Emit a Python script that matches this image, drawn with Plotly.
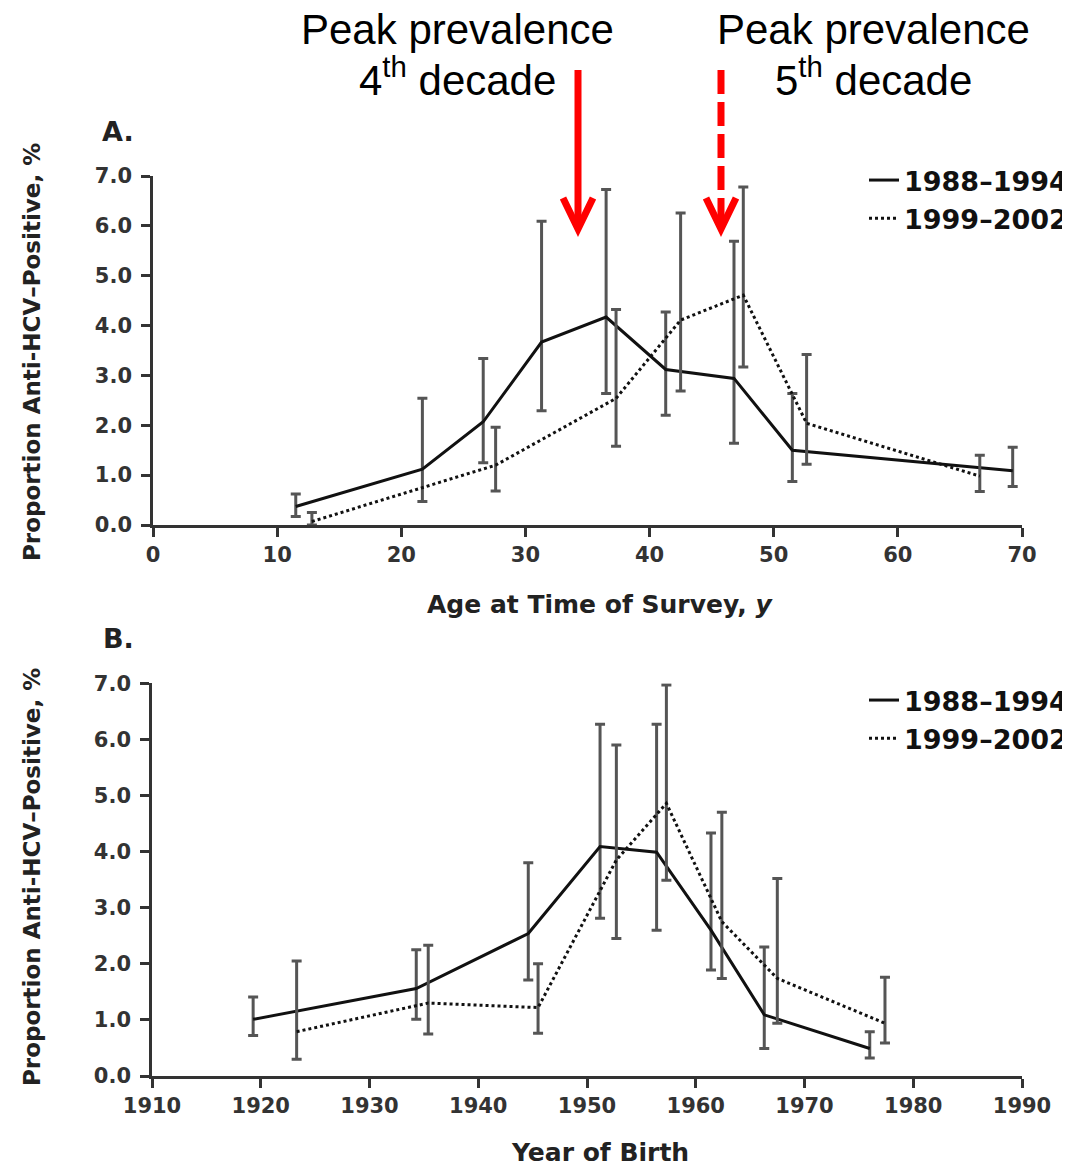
import plotly.graph_objects as go

# page is 1070x1166; the html body adds an 8px margin, so the figure is sized to fit
OFF = 8
W, H = 1070 - OFF, 1166 - OFF

# ---------------- Data ----------------
# Panel A: Age at time of survey
age_8894 = [11.5, 21.7, 26.6, 31.3, 36.5, 41.3, 46.8, 51.5, 69.25]
prev_8894_a = [0.37, 1.12, 2.07, 3.67, 4.17, 3.12, 2.94, 1.50, 1.09]
hi_8894_a = [0.62, 2.54, 3.34, 6.09, 6.73, 4.27, 5.69, 2.64, 1.56]
lo_8894_a = [0.17, 0.47, 1.25, 2.29, 2.64, 2.20, 1.64, 0.87, 0.77]

age_9902 = [12.8, 27.6, 37.3, 42.5, 47.55, 52.65, 66.6]
prev_9902_a = [0.07, 1.20, 2.54, 4.11, 4.61, 2.04, 0.98]
hi_9902_a = [0.25, 1.96, 4.32, 6.26, 6.78, 3.42, 1.40]
lo_9902_a = [0.00, 0.68, 1.58, 2.69, 3.17, 1.22, 0.67]

# Panel B: Year of birth
birth_8894 = [1919.3, 1934.3, 1944.6, 1951.2, 1956.4, 1961.4, 1966.3, 1976.0]
prev_8894_b = [1.01, 1.56, 2.54, 4.09, 3.99, 2.60, 1.09, 0.49]
hi_8894_b = [1.41, 2.25, 3.80, 6.27, 6.27, 4.33, 2.30, 0.79]
lo_8894_b = [0.72, 1.01, 1.71, 2.81, 2.60, 1.89, 0.49, 0.32]

birth_9902 = [1923.3, 1935.4, 1945.5, 1952.7, 1957.3, 1962.4, 1967.5, 1977.4]
prev_9902_b = [0.79, 1.30, 1.22, 3.85, 4.86, 2.75, 1.74, 0.94]
hi_9902_b = [2.05, 2.33, 2.00, 5.90, 6.97, 4.70, 3.52, 1.76]
lo_9902_b = [0.30, 0.75, 0.76, 2.45, 3.49, 1.74, 0.94, 0.59]

series_names = ["1988\u20131994", "1999\u20132002"]
age_ticks = [0, 10, 20, 30, 40, 50, 60, 70]
year_ticks = [1910, 1920, 1930, 1940, 1950, 1960, 1970, 1980, 1990]
prev_ticks = [0, 1, 2, 3, 4, 5, 6, 7]


def px(x):
    return (x - OFF) / W


def py(y):
    return 1 - (y - OFF) / H


fig = go.Figure()


def add_series(x, y, hi, lo, name, dash, xa, ya, legend):
    fig.add_trace(go.Scatter(
        x=x, y=y, mode="lines", name=name,
        line=dict(color="#111111", width=3, dash=dash),
        error_y=dict(type="data", symmetric=False,
                     array=[h - v for h, v in zip(hi, y)],
                     arrayminus=[v - l for v, l in zip(y, lo)],
                     color="#555555", thickness=3, width=5),
        xaxis=xa, yaxis=ya, legend=legend, showlegend=True))


add_series(age_8894, prev_8894_a, hi_8894_a, lo_8894_a, series_names[0], "solid", "x", "y", "legend")
add_series(age_9902, prev_9902_a, hi_9902_a, lo_9902_a, series_names[1], "3px,3px", "x", "y", "legend")
add_series(birth_8894, prev_8894_b, hi_8894_b, lo_8894_b, series_names[0], "solid", "x2", "y2", "legend2")
add_series(birth_9902, prev_9902_b, hi_9902_b, lo_9902_b, series_names[1], "3px,3px", "x2", "y2", "legend2")

tickfont = dict(family="DejaVu Sans", size=21, color="#333333", weight="bold")
axis_common = dict(showline=True, linecolor="#333333", linewidth=2.5,
                   ticks="outside", ticklen=9, tickwidth=2.5, tickcolor="#333333",
                   showgrid=False, zeroline=False, tickfont=tickfont, automargin=False)

legend_font = dict(family="DejaVu Sans", size=27, color="#111111", weight="bold")

fig.update_layout(
    width=W, height=H,
    margin=dict(l=0, r=0, t=0, b=0, autoexpand=False),
    paper_bgcolor="white", plot_bgcolor="white",
    font=dict(family="DejaVu Sans"),
    xaxis=dict(domain=[px(153), px(1022)], anchor="y", range=[0, 70],
               tickvals=age_ticks, ticklabelstandoff=0, **axis_common),
    yaxis=dict(domain=[py(525), py(176)], anchor="x", range=[0, 7],
               tickvals=prev_ticks, tickformat=".1f", ticklabelstandoff=5, **axis_common),
    xaxis2=dict(domain=[px(152), px(1022)], anchor="y2", range=[1910, 1990],
                tickvals=year_ticks, ticklabelstandoff=0, **axis_common),
    yaxis2=dict(domain=[py(1076), py(683.3)], anchor="x2", range=[0, 7],
                tickvals=prev_ticks, tickformat=".1f", ticklabelstandoff=5, **axis_common),
    legend=dict(x=px(864), y=py(156), xanchor="left", yanchor="top",
                font=legend_font, bgcolor="rgba(0,0,0,0)", tracegroupgap=0),
    legend2=dict(x=px(864), y=py(676), xanchor="left", yanchor="top",
                 font=legend_font, bgcolor="rgba(0,0,0,0)", tracegroupgap=0),
)

ann = []
label_font = dict(family="DejaVu Sans", size=27, color="#222222", weight="bold")
ann.append(dict(text="A.", x=px(118), y=py(132), showarrow=False, font=label_font))
ann.append(dict(text="B.", x=px(118), y=py(638), showarrow=False, font=label_font))

ytitle_font = dict(family="DejaVu Sans", size=23, color="#222222", weight="bold")
ytitle = "Proportion Anti-HCV\u2013Positive, %"
ann.append(dict(text=ytitle, x=px(32), y=py(352), textangle=-90, showarrow=False, font=ytitle_font))
ann.append(dict(text=ytitle, x=px(32), y=py(877), textangle=-90, showarrow=False, font=ytitle_font))

xtitle_font = dict(family="DejaVu Sans", size=25, color="#222222", weight="bold")
ann.append(dict(text="Age at Time of Survey, <i>y</i>", x=px(600), y=py(604), showarrow=False, font=xtitle_font))
ann.append(dict(text="Year of Birth", x=px(600), y=py(1152), showarrow=False, font=xtitle_font))

top_font = dict(family="Liberation Sans", size=42, color="#000000")
ann.append(dict(text="Peak prevalence", x=px(457), y=py(30), showarrow=False, font=top_font, borderpad=0))
ann.append(dict(text="4<sup>th</sup> decade", x=px(457), y=py(77), showarrow=False, font=top_font, borderpad=0))
ann.append(dict(text="Peak prevalence", x=px(873), y=py(30), showarrow=False, font=top_font, borderpad=0))
ann.append(dict(text="5<sup>th</sup> decade", x=px(873), y=py(77), showarrow=False, font=top_font, borderpad=0))

for a in ann:
    a.setdefault("xref", "paper")
    a.setdefault("yref", "paper")
    a.setdefault("xanchor", "center")
    a.setdefault("yanchor", "middle")
fig.update_layout(annotations=ann)

red = "#ff0000"
shapes = [
    # solid arrow
    dict(type="line", x0=px(578), x1=px(578), y0=py(70), y1=py(224),
         line=dict(color=red, width=7)),
    dict(type="path",
         path=f"M {px(563)} {py(198)} L {px(578)} {py(229)} L {px(593)} {py(198)}",
         line=dict(color=red, width=7)),
    # dashed arrow
    dict(type="line", x0=px(721), x1=px(721), y0=py(70), y1=py(224),
         line=dict(color=red, width=7, dash="24px,8px")),
    dict(type="path",
         path=f"M {px(706)} {py(198)} L {px(721)} {py(229)} L {px(736)} {py(198)}",
         line=dict(color=red, width=7)),
]
for s in shapes:
    s["xref"] = "paper"
    s["yref"] = "paper"
fig.update_layout(shapes=shapes)

fig.write_html("out.html")
